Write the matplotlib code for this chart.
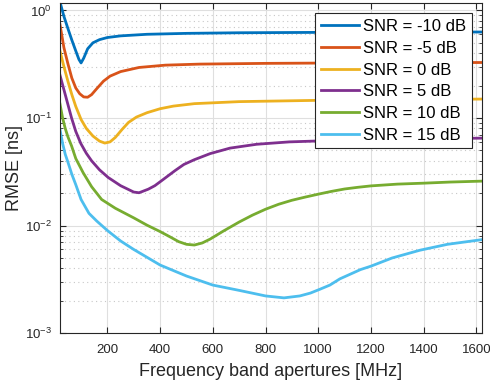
import numpy as np
import matplotlib
matplotlib.use("Agg")
import matplotlib.pyplot as plt
from matplotlib.ticker import LogLocator, FixedLocator, NullFormatter

plt.rcParams['font.family'] = ['Liberation Sans', 'DejaVu Sans']
plt.rcParams['mathtext.fontset'] = 'custom'
plt.rcParams['mathtext.rm'] = 'Liberation Sans'
plt.rcParams['mathtext.it'] = 'Liberation Sans:italic'

# values (frequency band aperture in MHz, RMSE in ns)
f_m10 = [20, 35, 50, 65, 80, 92, 100, 110, 125, 145, 170, 200, 250, 350, 500, 700, 1000, 1300, 1620]
r_m10 = [1.2, 0.88, 0.68, 0.53, 0.42, 0.35, 0.325, 0.36, 0.44, 0.50, 0.535, 0.56, 0.58, 0.60, 0.612,
         0.62, 0.625, 0.628, 0.63]

f_m5 = [20, 35, 50, 65, 80, 95, 110, 125, 140, 160, 185, 210, 250, 320, 420, 550, 800, 1200, 1620]
r_m5 = [0.74, 0.45, 0.32, 0.235, 0.19, 0.168, 0.157, 0.156, 0.165, 0.188, 0.22, 0.245, 0.27, 0.295,
        0.31, 0.317, 0.322, 0.326, 0.328]

f_0 = [20, 35, 50, 65, 80, 100, 120, 145, 170, 190, 210, 230, 255, 280, 310, 350, 400, 450, 530,
       700, 1000, 1300, 1620]
r_0 = [0.42, 0.30, 0.22, 0.165, 0.128, 0.097, 0.08, 0.068, 0.061, 0.0585, 0.060, 0.066, 0.078,
       0.091, 0.102, 0.112, 0.122, 0.129, 0.136, 0.142, 0.146, 0.148, 0.150]

f_5 = [20, 40, 64, 80, 99, 120, 140, 170, 203, 250, 300, 320, 355, 380, 406, 430, 457, 490, 530,
       590, 665, 766, 890, 1000, 1200, 1400, 1620]
r_5 = [0.25, 0.165, 0.10, 0.075, 0.058, 0.047, 0.040, 0.033, 0.028, 0.0235, 0.0205, 0.0202, 0.0218,
       0.0235, 0.0262, 0.029, 0.0325, 0.037, 0.041, 0.0467, 0.0525, 0.0570, 0.060, 0.0612, 0.063,
       0.064, 0.065]

f_10 = [20, 30, 40, 50, 64, 80, 108, 140, 178, 230, 300, 350, 400, 440, 470, 500, 530, 560, 590,
        640, 700, 750, 800, 850, 900, 950, 1000, 1050, 1100, 1150, 1200, 1300, 1400, 1500, 1620]
r_10 = [0.135, 0.10, 0.08, 0.067, 0.055, 0.042, 0.031, 0.023, 0.0175, 0.0145, 0.0118, 0.0101,
        0.0088, 0.0078, 0.0071, 0.0067, 0.0066, 0.0069, 0.0075, 0.0089, 0.0108, 0.0125, 0.0142,
        0.0158, 0.0172, 0.0184, 0.0196, 0.0208, 0.0219, 0.0227, 0.0234, 0.0243, 0.0248, 0.0254,
        0.0259]

f_15 = [20, 30, 40, 50, 65, 80, 100, 130, 160, 200, 250, 300, 400, 500, 600, 700, 800, 870, 930,
        970, 1006, 1044, 1082, 1160, 1200, 1280, 1385, 1490, 1620]
r_15 = [0.078, 0.058, 0.046, 0.039, 0.030, 0.024, 0.0175, 0.0130, 0.0110, 0.0090, 0.0072, 0.0060,
        0.0043, 0.0034, 0.0028, 0.0025, 0.00222, 0.00213, 0.00222, 0.00236, 0.00256, 0.0028,
        0.0032, 0.0039, 0.0042, 0.0050, 0.0059, 0.0067, 0.0074]

labels = ['SNR = -10 dB', 'SNR = -5 dB', 'SNR = 0 dB', 'SNR = 5 dB', 'SNR = 10 dB', 'SNR = 15 dB']
colors = ['#0072BD', '#D95319', '#EDB120', '#7E2F8E', '#77AC30', '#4DBEEE']
xticks = [200, 400, 600, 800, 1000, 1200, 1400, 1600]

series = [(f_m10, r_m10), (f_m5, r_m5), (f_0, r_0), (f_5, r_5), (f_10, r_10), (f_15, r_15)]

fig = plt.figure(figsize=(4.9, 3.87), dpi=100)
ax = fig.add_axes([0.1224, 0.139, 0.8606, 0.852])

for (f, r), lab, c in zip(series, labels, colors):
    ax.plot(f, r, color=c, lw=2, label=lab)

ax.set_yscale('log')
ax.set_xlim(20, 1620)
ax.set_ylim(1e-3, 1.16)
ax.xaxis.set_major_locator(FixedLocator(xticks))
ax.yaxis.set_major_locator(LogLocator(base=10, numticks=10))
ax.yaxis.set_minor_locator(LogLocator(base=10, subs=np.arange(2, 10), numticks=10))
ax.yaxis.set_minor_formatter(NullFormatter())

axcol = '#262626'
ax.grid(True, which='major', color='#dfdfdf', lw=0.8, ls='-')
ax.grid(True, which='minor', axis='y', color='#c8c8c8', lw=0.8, ls=(0, (1, 3)))
ax.set_axisbelow(True)
ax.tick_params(which='both', direction='in', top=True, right=True, colors=axcol, labelsize=9.5)
ax.tick_params(which='major', length=4, width=0.8)
ax.tick_params(which='minor', length=2.5, width=0.6)
ax.tick_params(axis='x', which='major', pad=7.5)
ax.tick_params(axis='y', which='major', pad=6)
for s in ax.spines.values():
    s.set_color(axcol)
    s.set_linewidth(0.8)

ax.set_xlabel('Frequency band apertures [MHz]', fontsize=13, color=axcol, labelpad=5)
ax.set_ylabel('RMSE [ns]', fontsize=13, color=axcol, labelpad=1)

leg = ax.legend(loc='upper right', fontsize=12, frameon=True, fancybox=False, framealpha=1,
                edgecolor='#262626', handlelength=2.3, handletextpad=0.2, labelspacing=0.4,
                borderpad=0.35, borderaxespad=0.6)
leg.get_frame().set_linewidth(0.8)

fig.savefig('out.png', dpi=100)
